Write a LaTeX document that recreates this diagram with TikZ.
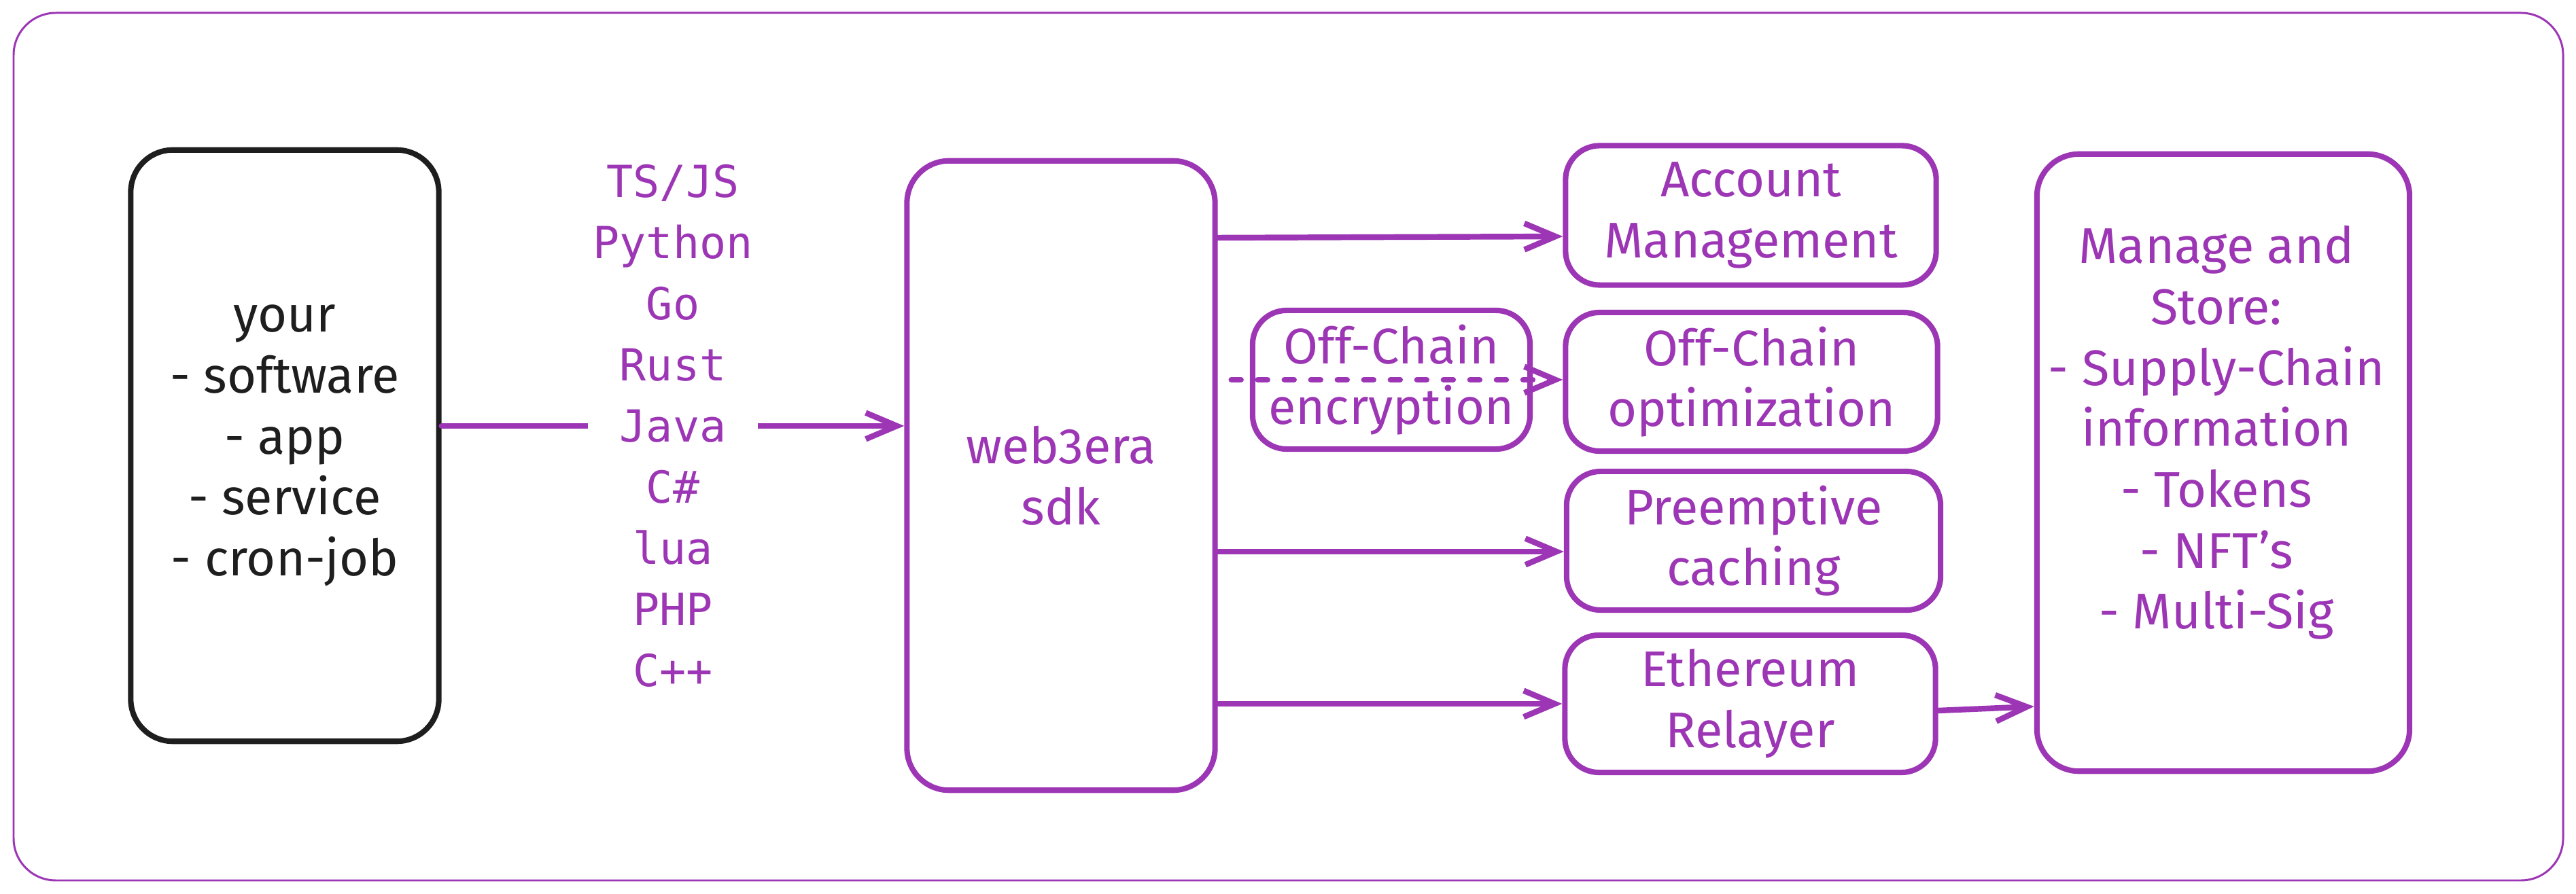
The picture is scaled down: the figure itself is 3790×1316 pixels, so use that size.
\documentclass[tikz,border=0pt]{standalone}
\usepackage{fontspec}
\setmainfont{Fira Sans}
\newfontfamily\codefont{DejaVu Sans Mono}
\usetikzlibrary{arrows.meta,calc}
\definecolor{sketchpurple}{RGB}{156,54,181}
\definecolor{sketchblack}{RGB}{30,30,30}

\begin{document}
\begin{tikzpicture}[x=0.01cm, y=-0.01cm,
    boxtext/.style={text=sketchpurple, align=center, font=\fontsize{21}{25.5}\selectfont},
    box/.style={boxtext, rectangle, rounded corners=0.5cm, draw=sketchpurple, line width=2.3pt, inner sep=0pt},
    bigbox/.style={box, rounded corners=0.62cm},
    arr/.style={-{Straight Barb[length=13pt,width=11pt]}, draw=sketchpurple, line width=2.4pt, line cap=round},
    langs/.style={fill=white, text=sketchpurple, align=center, font=\codefont\fontsize{18.5}{25.6}\selectfont, inner xsep=2pt, inner ysep=0pt}]

    \useasboundingbox (0,0) rectangle (3790,1316);
    \draw[sketchpurple, line width=0.85pt, rounded corners=0.62cm] (20,19) rectangle (3771,1296);

    \draw 
    (419, 656) node[bigbox, draw=sketchblack, text=sketchblack, minimum width=4.53cm, minimum height=8.7cm](soft){your\\- software\\- app\\- service\\- cron-job}
    (1561, 700) node[bigbox, minimum width=4.53cm, minimum height=9.26cm](sdk){web3era\\sdk}
    (2576, 317) node[box, minimum width=5.45cm, minimum height=2.05cm](acct){Account\\Management}
    (2047, 559) node[box, minimum width=4.08cm, minimum height=2.04cm](encr){Off-Chain\\encryption}
    (2577, 562) node[box, minimum width=5.47cm, minimum height=2.04cm](optim){Off-Chain\\optimization}
    (2580, 796) node[box, minimum width=5.50cm, minimum height=2.04cm](cache){Preemptive\\caching}
    (2575, 1036) node[box, minimum width=5.45cm, minimum height=2.02cm](relay){Ethereum\\Relayer}
    (3271, 681) node[bigbox, minimum width=5.48cm, minimum height=9.08cm](store){};
    \node[boxtext] (storetext) at (3261, 637) {Manage and\\Store:\\- Supply-Chain\\information\\- Tokens\\- NFT's\\- Multi-Sig};

    \draw[arr] ($(soft.east)+(0,-29)$) -- node[langs]{TS/JS\\Python\\Go\\Rust\\Java\\C\#\\lua\\PHP\\C++} ($(sdk.west |- soft.east)+(0,-29)$);
    \draw[arr] ($(sdk.east |- acct.west)+(0,33)$) -- ($(acct.west)+(0,31)$);
    \draw[arr, dash pattern=on 0.14cm off 0.25cm, shorten <=0.2cm] (sdk.east |- encr.center) -- (optim.west |- encr.center);
    \draw[arr] ($(sdk.east |- cache.west)+(0,16)$) -- ($(cache.west)+(0,16)$);
    \draw[arr] (sdk.east |- relay.west) -- (relay.west);
    \draw[arr] ($(relay.east)+(0,10)$) -- ($(store.west |- relay.east)+(0,4)$);

  \end{tikzpicture}
\end{document}
